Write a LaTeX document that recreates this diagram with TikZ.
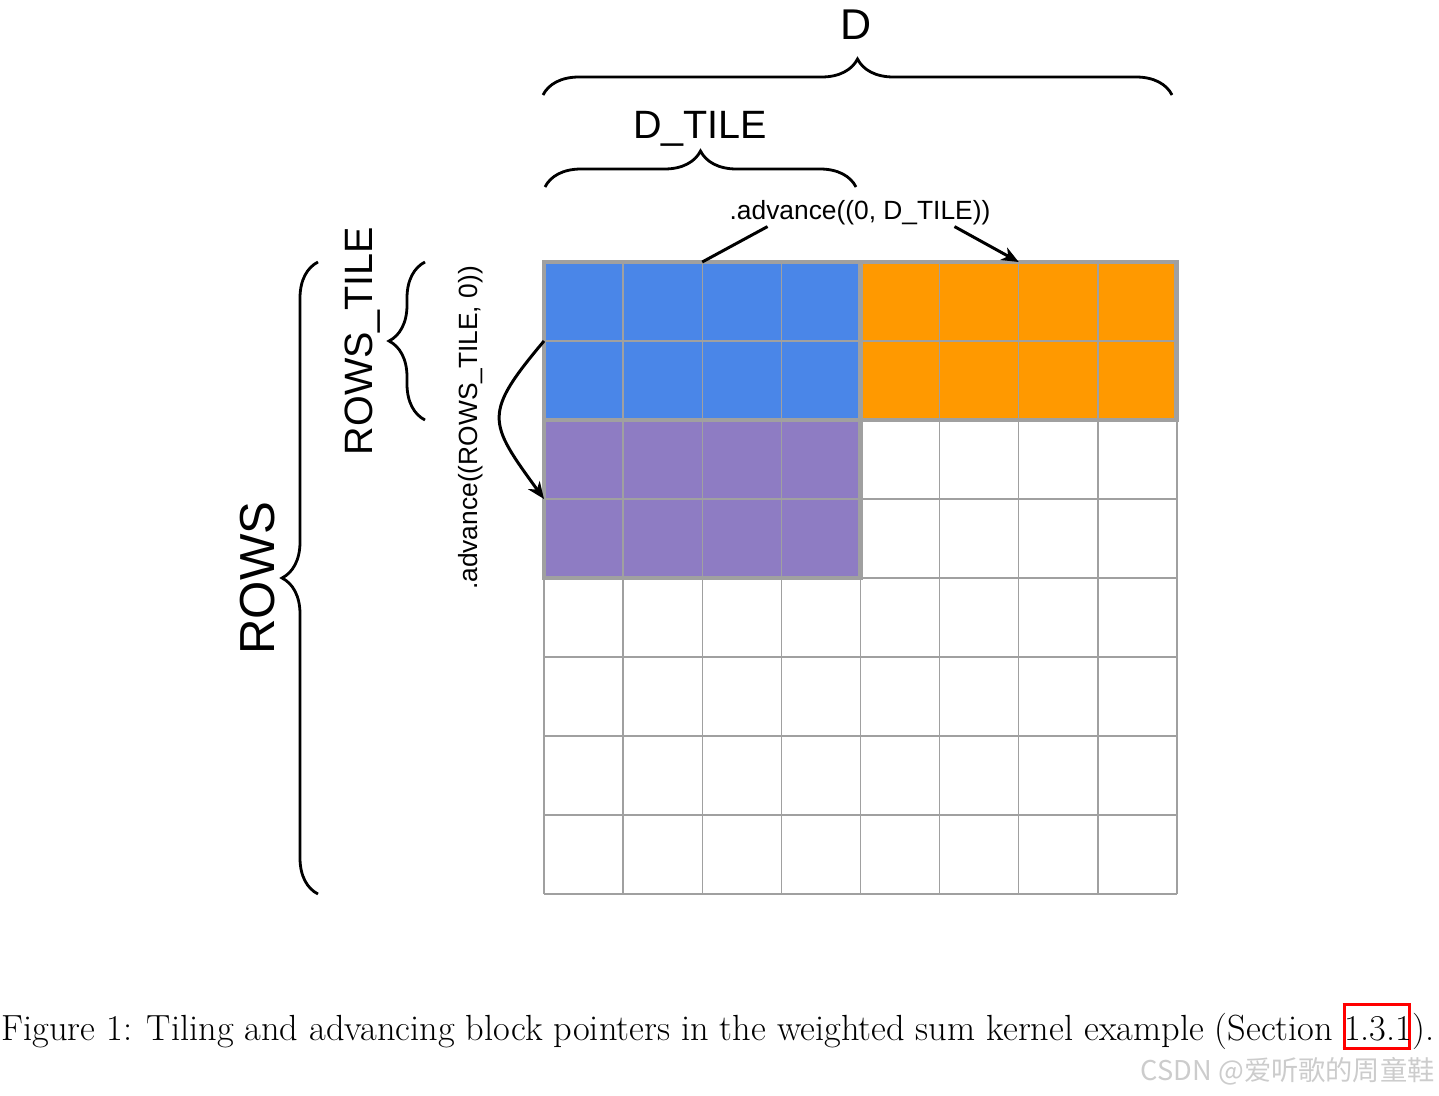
\documentclass[tikz,border=0pt]{standalone}
\usepackage{fontspec}
\newfontfamily\labelfont{Liberation Sans}
\newfontfamily\cjkfont{Noto Sans CJK SC}
\usetikzlibrary{decorations.pathreplacing, arrows.meta}

\definecolor{tileblue}{HTML}{4A86E8}
\definecolor{tileorange}{HTML}{FF9900}
\definecolor{tilepurple}{HTML}{8E7CC3}
\definecolor{gridgray}{HTML}{A0A0A0}

% red link frame drawn over the text, like hyperref does
\newcommand\linkbox[1]{%
  \rlap{\kern-0.9pt\textcolor{red}{\setlength\fboxsep{0pt}\setlength\fboxrule{1.7pt}%
    \fbox{\vrule height 19.3pt depth 4pt width 0pt\kern-1.7pt\phantom{#1}\kern-1.7pt}}}#1}

\tikzset{%
  every tile/.style={
    rectangle,
    inner sep=0pt,
    outer sep=0pt,
    anchor=north west,
    minimum width=6.33cm,
    minimum height=3.16cm
  },
  grid line/.style={draw=gridgray, line width=0.8pt},
  tile edge/.style={draw=gridgray, line width=2.8pt},
  size brace/.style={
    decorate,
    decoration={brace, amplitude=0.72cm},
    line width=1.6pt
  },
  big label/.style={font=\labelfont\fontsize{22.5}{26}\selectfont, inner sep=0pt},
  small label/.style={font=\labelfont\fontsize{15}{18}\selectfont, inner sep=1pt},
  advance arrow/.style={line width=1.7pt},
}

\begin{document}
\begin{tikzpicture}[x=0.02cm, y=-0.02cm, >={Stealth[length=0.34cm, width=0.28cm, inset=0.1cm]}]

\useasboundingbox (0,0) rectangle (1439,1095);

% tiles
\node [every tile, fill=tileblue] (blue-tile) at (544,262) {};
\node [every tile, fill=tileorange] (orange-tile) at (860.5,262) {};
\node [every tile, fill=tilepurple] (purple-tile) at (544,420) {};

% 8 x 8 grid
\foreach \i in {0,...,8} {
  \draw [grid line] (544+\i*79.125,262) -- (544+\i*79.125,894);
  \draw [grid line] (544,262+\i*79) -- (1177,262+\i*79);
}

\foreach \t in {blue,orange,purple}
  \draw [tile edge] (\t-tile.north west) rectangle (\t-tile.south east);

% braces
\coordinate (d-left) at (543,95);
\coordinate (d-right) at (1172,95);
\coordinate (dtile-left) at (545,187);
\coordinate (dtile-right) at (856,187);
\coordinate (rows-bottom) at (318,894);
\coordinate (rows-top) at (318,262);
\coordinate (rtile-bottom) at (425,420);
\coordinate (rtile-top) at (425,262);

\draw [size brace] (d-left) -- (d-right);
\draw [size brace] (dtile-left) -- (dtile-right);
\draw [size brace] (rows-bottom) -- (rows-top);
\draw [size brace] (rtile-bottom) -- (rtile-top);

\node [big label, font=\labelfont\fontsize{24.5}{28}\selectfont] (d-label) at (856,25) {D};
\node [big label, anchor=base] (dtile-label) at (700,138) {D\_TILE};
\node [big label, anchor=base, rotate=90] (rtile-label) at (372,341) {ROWS\_TILE};
\node [big label, anchor=base, rotate=90, font=\labelfont\fontsize{28}{32}\selectfont] (rows-label) at (274,578) {ROWS};

% advancing the block pointer
\node [small label, anchor=base] (adv-cols) at (860,219) {.advance((0, D\_TILE))};
\node [small label, anchor=base, rotate=90] (adv-rows) at (477,428) {.advance((ROWS\_TILE, 0))};

\draw [advance arrow] (blue-tile.north) -- ([xshift=0.8cm]adv-cols.south west);
\draw [advance arrow, ->] ([xshift=-0.76cm]adv-cols.south east) -- (orange-tile.north);
\draw [advance arrow, ->] (blue-tile.west) to [out=230, in=126, looseness=1.55] (purple-tile.west);

% caption
\node [anchor=base, inner sep=0pt, font=\fontsize{20.7}{24}\selectfont] (caption) at (718,1040)
  {Figure 1: Tiling and advancing block pointers in the weighted sum kernel example (Section \linkbox{1.3.1}).};
\node [anchor=base east, inner sep=0pt, text=gray!40, font=\cjkfont\fontsize{15.5}{19}\selectfont] (mark) at (1435,1080)
  {CSDN @爱听歌的周童鞋};

\end{tikzpicture}
\end{document}
